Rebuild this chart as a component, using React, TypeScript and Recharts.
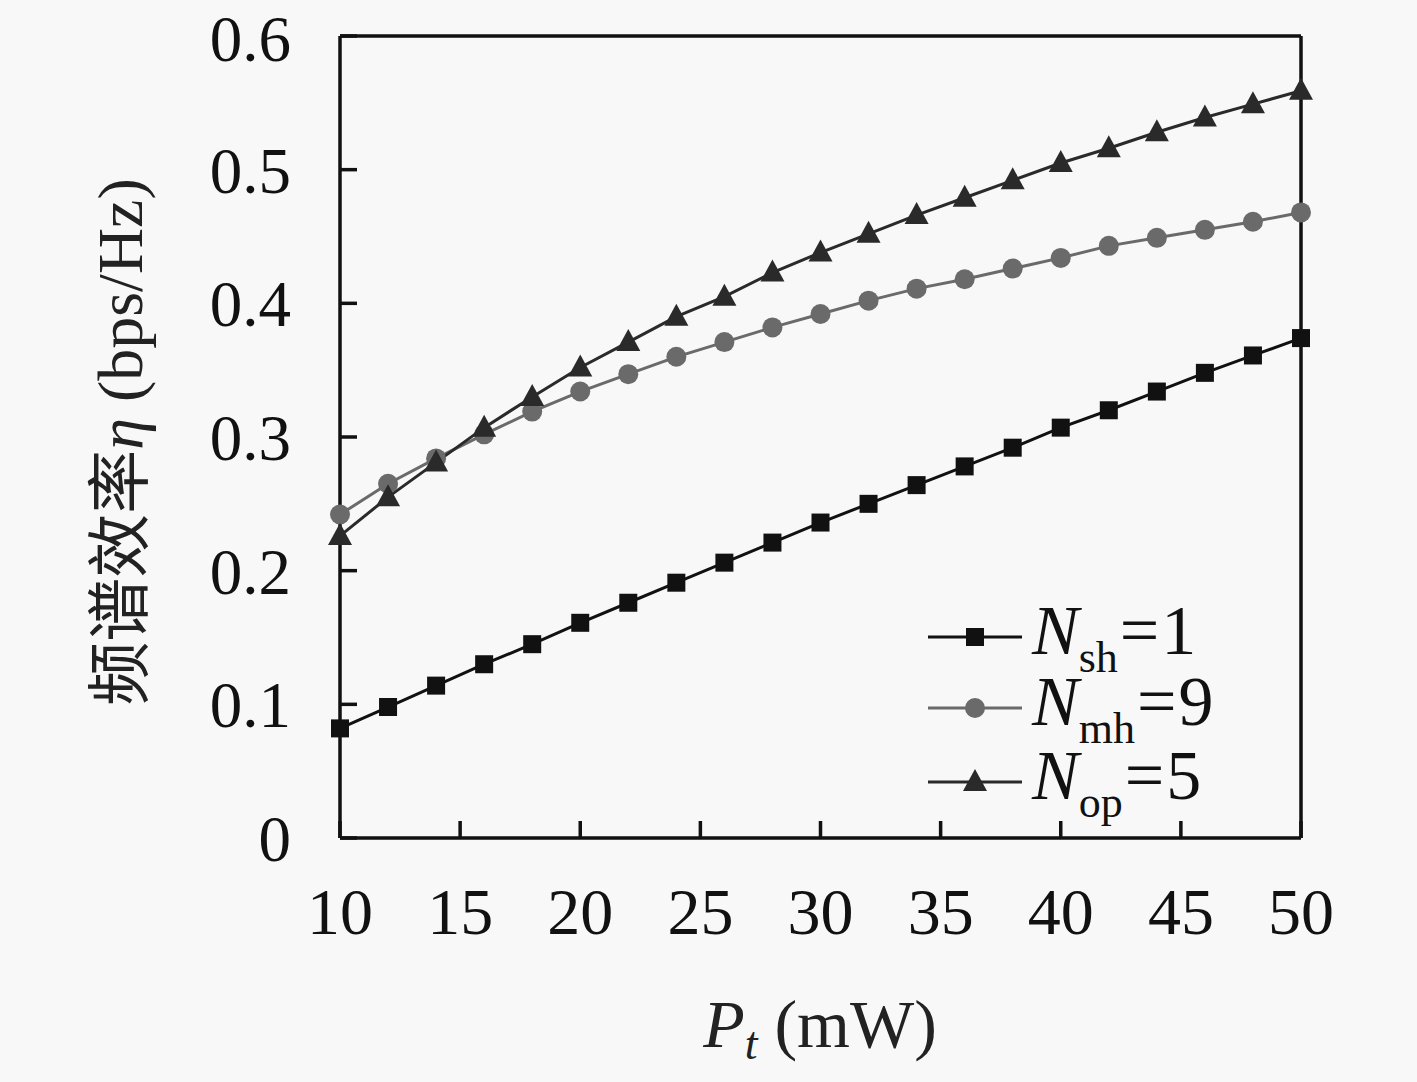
import React from 'react';
import { LineChart, Line, XAxis, YAxis, ReferenceLine, Label } from 'recharts';

const pt = [10, 12, 14, 16, 18, 20, 22, 24, 26, 28, 30, 32, 34, 36, 38, 40, 42, 44, 46, 48, 50];
const nsh = [0.082, 0.098, 0.114, 0.130, 0.145, 0.161, 0.176, 0.191, 0.206, 0.221, 0.236, 0.250, 0.264, 0.278, 0.292, 0.307, 0.320, 0.334, 0.348, 0.361, 0.374];
const nmh = [0.242, 0.265, 0.284, 0.302, 0.319, 0.334, 0.347, 0.360, 0.371, 0.382, 0.392, 0.402, 0.411, 0.418, 0.426, 0.434, 0.443, 0.449, 0.455, 0.461, 0.468];
const nop = [0.226, 0.255, 0.281, 0.307, 0.330, 0.352, 0.371, 0.390, 0.405, 0.423, 0.438, 0.452, 0.466, 0.479, 0.492, 0.505, 0.516, 0.528, 0.539, 0.549, 0.559];
const xTicks = [10, 15, 20, 25, 30, 35, 40, 45, 50];
const yTicks = [0, 0.1, 0.2, 0.3, 0.4, 0.5, 0.6];

const data = pt.map((p, i) => ({ pt: p, nsh: nsh[i], nmh: nmh[i], nop: nop[i] }));

const SERIF = '"Liberation Serif", "DejaVu Serif", serif';
const CJK = '"Noto Sans CJK SC", sans-serif';

const SquareDot = (props: any) => {
  const { cx, cy, index } = props;
  return <rect key={`s-${index}`} x={cx - 9} y={cy - 9} width={18} height={18} fill="#111" />;
};
const CircleDot = (props: any) => {
  const { cx, cy, index } = props;
  return <circle key={`c-${index}`} cx={cx} cy={cy} r={10} fill="#6a6a6a" />;
};
const TriDot = (props: any) => {
  const { cx, cy, index } = props;
  return <path key={`t-${index}`} d={`M${cx},${cy - 13} L${cx + 12},${cy + 9} L${cx - 12},${cy + 9} Z`} fill="#2a2a2a" />;
};

const legendItems = [
  { sub: 'sh', val: '1', color: '#111', marker: 'square', y: 637 },
  { sub: 'mh', val: '9', color: '#6a6a6a', marker: 'circle', y: 708 },
  { sub: 'op', val: '5', color: '#2a2a2a', marker: 'tri', y: 782 },
];

const LegendBox = () => (
  <>
    {legendItems.map((it) => (
      <div
        key={it.sub}
        style={{
          position: 'absolute', left: 928, top: it.y - 40, height: 80,
          display: 'flex', alignItems: 'center',
          fontFamily: SERIF, fontSize: 70, color: '#111', whiteSpace: 'nowrap',
        }}
      >
        <svg width={94} height={30} style={{ marginRight: 10 }}>
          <line x1={0} y1={15} x2={94} y2={15} stroke={it.color} strokeWidth={3} />
          {it.marker === 'square' && <rect x={38} y={6} width={18} height={18} fill={it.color} />}
          {it.marker === 'circle' && <circle cx={47} cy={15} r={10} fill={it.color} />}
          {it.marker === 'tri' && <path d="M47,2 L59,24 L35,24 Z" fill={it.color} />}
        </svg>
        <span style={{ position: 'relative', top: -6 }}>
          <i>N</i>
          <span style={{ fontSize: 44, position: 'relative', top: 18 }}>{it.sub}</span>
          <span style={{ margin: '0 2px' }}>=</span>
          {it.val}
        </span>
      </div>
    ))}
  </>
);

const YLabel = () => (
  <text transform="translate(142, 442) rotate(-90)" textAnchor="middle" fill="#222" fontSize={64}>
    <tspan fontFamily={CJK}>频谱效率</tspan>
    <tspan fontFamily={SERIF} fontStyle="italic">η</tspan>
    <tspan fontFamily={SERIF}> (bps/Hz)</tspan>
  </text>
);

const XLabel = () => (
  <text x={820} y={1047} textAnchor="middle" fill="#222" fontSize={68} fontFamily={SERIF}>
    <tspan fontStyle="italic">P</tspan>
    <tspan fontStyle="italic" fontSize={46} dy={12}>t</tspan>
    <tspan dy={-12}> (mW)</tspan>
  </text>
);

export default function App() {
  return (
    <div style={{ position: 'absolute', left: 0, top: 0, width: 1417, height: 1082, background: '#f8f8f8' }}>
      <LineChart width={1417} height={1082} data={data} margin={{ top: 36, right: 116, bottom: 144, left: 240 }}>
        <XAxis
          dataKey="pt"
          type="number"
          domain={[10, 50]}
          ticks={xTicks}
          height={100}
          stroke="#111"
          strokeWidth={3.5}
          tickSize={-17}
          tickMargin={66}
          tick={{ fill: '#111', fontSize: 66, fontFamily: SERIF }}
        >
          <Label content={XLabel} />
        </XAxis>
        <YAxis
          type="number"
          domain={[0, 0.6]}
          ticks={yTicks}
          width={100}
          stroke="#111"
          strokeWidth={3.5}
          tickSize={-17}
          tickMargin={66}
          tickFormatter={(v: number) => (v === 0 ? '0' : v.toFixed(1))}
          tick={{ fill: '#111', fontSize: 65, fontFamily: SERIF }}
        >
          <Label content={YLabel} />
        </YAxis>
        <ReferenceLine y={0.6} stroke="#111" strokeWidth={3.5} />
        <ReferenceLine x={50} stroke="#111" strokeWidth={3.5} />
        <Line dataKey="nsh" stroke="#111" strokeWidth={3} dot={SquareDot} isAnimationActive={false} />
        <Line dataKey="nmh" stroke="#6a6a6a" strokeWidth={3} dot={CircleDot} isAnimationActive={false} />
        <Line dataKey="nop" stroke="#2a2a2a" strokeWidth={3} dot={TriDot} isAnimationActive={false} />
      </LineChart>
      <LegendBox />
    </div>
  );
}
